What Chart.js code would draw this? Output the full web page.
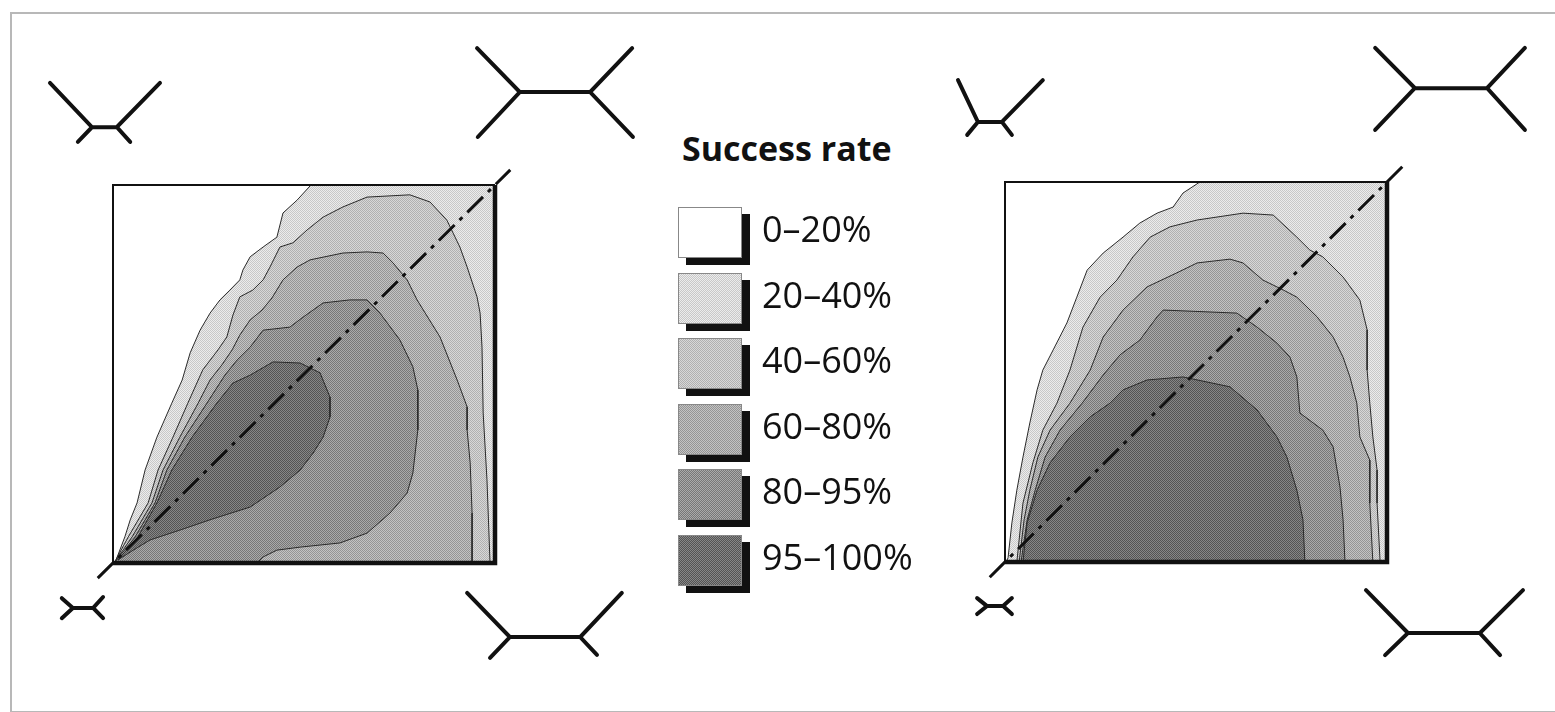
<!DOCTYPE html>
<html><head><meta charset="utf-8">
<script src="https://cdn.jsdelivr.net/npm/chart.js@4.4.1/dist/chart.umd.min.js"></script>
<style>
html,body{margin:0;padding:0;background:#fff;}
body{width:1555px;height:712px;position:relative;overflow:hidden;}
#frame{position:absolute;left:10px;top:12px;width:1600px;height:697px;border-left:2px solid #b8b8b8;border-top:2px solid #b8b8b8;border-bottom:2px solid #b8b8b8;}
canvas{position:absolute;}
.title{position:absolute;left:682px;top:128px;font:700 34px 'Open Sans',sans-serif;line-height:40px;color:#111;white-space:nowrap;}
.sw{position:absolute;width:64px;height:51px;box-sizing:border-box;border:1px solid #888;}
.sh{position:absolute;width:64px;height:51px;background:#111;}
.lab{position:absolute;left:762px;font:500 36px 'Open Sans',sans-serif;line-height:51px;color:#111;white-space:nowrap;}
</style></head><body>
<div id="frame"></div>
<canvas id="cl" width="660" height="680" style="left:20px;top:20px"></canvas>
<canvas id="cr" width="615" height="680" style="left:930px;top:20px"></canvas>
<div id="legend"></div>
<script>
// ---------- data (unit square = parameter space of each panel) ----------
const legendTitle = 'Success rate';
const levelLabels = ['0–20%','20–40%','40–60%','60–80%','80–95%','95–100%'];

const leftLevel20 = [[0.518,1.0],[0.482,0.960],[0.445,0.926],[0.429,0.862],[0.393,0.836],[0.359,0.810],[0.340,0.775],[0.332,0.749],[0.306,0.722],[0.280,0.696],[0.254,0.661],[0.228,0.616],[0.202,0.556],[0.181,0.484],[0.154,0.423],[0.131,0.370],[0.115,0.333],[0.084,0.246],[0.063,0.159],[0.045,0.114],[0.031,0.069],[0.005,0],[1,0],[1,1]];
const leftLevel40 = [[0.003,0],[0.040,0.069],[0.092,0.159],[0.118,0.246],[0.157,0.333],[0.196,0.423],[0.235,0.511],[0.275,0.564],[0.298,0.598],[0.314,0.656],[0.332,0.704],[0.366,0.722],[0.393,0.749],[0.411,0.783],[0.437,0.836],[0.471,0.847],[0.508,0.881],[0.550,0.915],[0.602,0.942],[0.665,0.968],[0.777,0.974],[0.830,0.955],[0.874,0.907],[0.908,0.836],[0.927,0.783],[0.953,0.704],[0.961,0.661],[0.966,0.571],[0.969,0.397],[0.979,0.220],[0.987,0]];
const leftLevel60 = [[0.003,0],[0.050,0.069],[0.102,0.159],[0.131,0.246],[0.175,0.333],[0.223,0.423],[0.254,0.484],[0.285,0.524],[0.312,0.564],[0.332,0.603],[0.359,0.643],[0.390,0.669],[0.416,0.701],[0.445,0.749],[0.482,0.783],[0.516,0.802],[0.602,0.820],[0.665,0.823],[0.707,0.820],[0.733,0.794],[0.770,0.749],[0.796,0.696],[0.856,0.598],[0.901,0.484],[0.927,0.413],[0.927,0.352],[0.935,0.265],[0.940,0.132],[0.940,0]];
const leftLevel80 = [[0.003,0],[0.058,0.069],[0.110,0.159],[0.141,0.246],[0.188,0.333],[0.246,0.423],[0.293,0.497],[0.325,0.537],[0.359,0.571],[0.393,0.616],[0.463,0.624],[0.497,0.650],[0.550,0.688],[0.620,0.696],[0.665,0.696],[0.699,0.661],[0.751,0.590],[0.785,0.519],[0.798,0.458],[0.798,0.352],[0.785,0.238],[0.770,0.185],[0.725,0.132],[0.665,0.079],[0.594,0.053],[0.490,0.042],[0.429,0.034],[0.393,0.016],[0.377,0]];
const leftLevel95 = [[0.013,0.008],[0.065,0.069],[0.115,0.159],[0.154,0.246],[0.207,0.333],[0.272,0.423],[0.314,0.476],[0.359,0.497],[0.419,0.532],[0.490,0.529],[0.542,0.503],[0.568,0.439],[0.568,0.386],[0.550,0.333],[0.524,0.291],[0.490,0.246],[0.437,0.201],[0.359,0.148],[0.259,0.116],[0.175,0.087],[0.097,0.061],[0.045,0.029]];

const rightLevel20 = [[0.510,1.0],[0.466,0.971],[0.440,0.934],[0.398,0.918],[0.353,0.892],[0.309,0.855],[0.257,0.813],[0.215,0.768],[0.188,0.697],[0.162,0.629],[0.126,0.558],[0.099,0.505],[0.084,0.453],[0.065,0.366],[0.047,0.276],[0.031,0.189],[0.018,0.103],[0.008,0.011],[0.003,0],[1,0],[1,1]];
const rightLevel40 = [[0.031,0],[0.047,0.155],[0.073,0.261],[0.099,0.347],[0.136,0.418],[0.170,0.505],[0.204,0.618],[0.249,0.697],[0.293,0.742],[0.335,0.803],[0.380,0.855],[0.432,0.882],[0.503,0.900],[0.623,0.918],[0.702,0.913],[0.764,0.855],[0.798,0.821],[0.832,0.803],[0.885,0.750],[0.929,0.689],[0.948,0.611],[0.948,0.505],[0.955,0.418],[0.963,0.329],[0.974,0.242],[0.974,0.155],[0.982,0]];
const rightLevel60 = [[0.037,0],[0.050,0.111],[0.065,0.189],[0.086,0.276],[0.118,0.347],[0.170,0.418],[0.223,0.505],[0.257,0.592],[0.309,0.663],[0.372,0.724],[0.450,0.761],[0.503,0.787],[0.589,0.797],[0.623,0.787],[0.675,0.742],[0.728,0.716],[0.764,0.697],[0.817,0.645],[0.859,0.592],[0.885,0.539],[0.903,0.487],[0.921,0.418],[0.929,0.329],[0.955,0.268],[0.955,0.155],[0.963,0]];
const rightLevel80 = [[0.042,0],[0.058,0.111],[0.079,0.189],[0.105,0.276],[0.144,0.347],[0.202,0.418],[0.257,0.492],[0.301,0.545],[0.353,0.584],[0.398,0.645],[0.414,0.663],[0.607,0.655],[0.660,0.618],[0.712,0.576],[0.746,0.539],[0.764,0.487],[0.772,0.392],[0.832,0.347],[0.859,0.303],[0.877,0.197],[0.885,0.111],[0.890,0]];
const rightLevel95 = [[0.047,0],[0.058,0.103],[0.084,0.189],[0.118,0.261],[0.170,0.329],[0.223,0.382],[0.275,0.418],[0.309,0.453],[0.372,0.479],[0.466,0.487],[0.589,0.461],[0.660,0.400],[0.712,0.329],[0.738,0.276],[0.764,0.189],[0.780,0.111],[0.785,0]];

const diagonal = [[-0.04,-0.04],[1.04,1.04]];
const frameThin = [[0,0],[0,1],[1,1]];
const frameThick = [[0,0],[1,0],[1,1]];

const leftTreeTopLeft = [[-0.165,1.270],[-0.055,1.153],[-0.092,1.114],null,[-0.055,1.153],[0.010,1.153],null,[0.123,1.270],[0.010,1.153],[0.045,1.114]];
const leftTreeTopRight = [[0.953,1.362],[1.065,1.246],[0.955,1.127],null,[1.065,1.246],[1.249,1.246],null,[1.359,1.362],[1.249,1.246],[1.361,1.127]];
const leftTreeBottomLeft = [[-0.134,-0.093],[-0.105,-0.119],[-0.134,-0.146],null,[-0.105,-0.119],[-0.052,-0.119],null,[-0.026,-0.090],[-0.052,-0.119],[-0.026,-0.146]];
const leftTreeBottomRight = [[0.927,-0.079],[1.039,-0.196],[0.987,-0.251],null,[1.039,-0.196],[1.223,-0.196],null,[1.332,-0.079],[1.223,-0.196],[1.267,-0.243]];

const rightTreeTopLeft = [[-0.123,1.268],[-0.071,1.158],[-0.099,1.124],null,[-0.071,1.158],[-0.008,1.158],null,[0.099,1.268],[-0.008,1.158],[0.018,1.124]];
const rightTreeTopRight = [[0.969,1.353],[1.073,1.247],[0.969,1.137],null,[1.073,1.247],[1.262,1.247],null,[1.361,1.353],[1.262,1.247],[1.361,1.137]];
const rightTreeBottomLeft = [[-0.073,-0.095],[-0.047,-0.116],[-0.073,-0.137],null,[-0.047,-0.116],[-0.005,-0.116],null,[0.018,-0.095],[-0.005,-0.116],[0.018,-0.137]];
const rightTreeBottomRight = [[0.945,-0.074],[1.055,-0.187],[0.995,-0.245],null,[1.055,-0.187],[1.243,-0.187],null,[1.356,-0.074],[1.243,-0.187],[1.296,-0.245]];

// ---------- styles ----------
function tile(bg, dot){
  const c=document.createElement('canvas'); c.width=2; c.height=2;
  const g=c.getContext('2d'); g.fillStyle=bg; g.fillRect(0,0,2,2);
  g.fillStyle=dot; g.fillRect(0,0,1,1); g.fillRect(1,1,1,1); return c;
}
const tiles=[tile('#ffffff','#ffffff'),tile('#ececec','#c8c8c8'),tile('#d7d7d7','#b0b0b0'),tile('#c3c3c3','#959595'),tile('#aaaaaa','#777777'),tile('#878787','#545454')];

function pts(a){ let lx=0; return a.map(p=> p ? (lx=p[0], {x:p[0],y:p[1]}) : {x:lx,y:null}); }
function poly(a){ const p=pts(a); p.push({x:p[0].x,y:p[0].y}); return p; }

function panel(id, box, cv, levels, trees){
  const ctx=document.getElementById(id).getContext('2d');
  const ds=[];
  levels.forEach((lv,i)=>ds.push({data:poly(lv),fill:'shape',backgroundColor:ctx.createPattern(tiles[i+1],'repeat'),borderColor:'#2a2a2a',borderWidth:1,order:90-i*10,pointRadius:0,tension:0}));
  ds.push({data:pts(diagonal),borderColor:'#111',borderWidth:3,borderDash:[22,7,4,7],order:10,fill:false,pointRadius:0});
  ds.push({data:pts(frameThin),borderColor:'#111',borderWidth:2,order:5,fill:false,pointRadius:0});
  ds.push({data:pts(frameThick),borderColor:'#111',borderWidth:4.5,order:4,fill:false,pointRadius:0});
  trees.forEach(t=>ds.push({data:pts(t),borderColor:'#111',borderWidth:4,borderCapStyle:'round',order:3,fill:false,spanGaps:false,pointRadius:0}));
  new Chart(ctx,{type:'line',data:{datasets:ds},options:{
    responsive:false,animation:false,devicePixelRatio:1,layout:{padding:0},
    plugins:{legend:{display:false},tooltip:{enabled:false}},
    elements:{point:{radius:0}},
    scales:{
      x:{type:'linear',display:false,min:(cv.left-box.left)/box.w,max:(cv.left+cv.w-box.left)/box.w},
      y:{type:'linear',display:false,min:(box.bottom-(cv.top+cv.h))/box.h,max:(box.bottom-cv.top)/box.h}
    }}});
}
panel('cl',{left:113,bottom:563,w:382,h:378},{left:20,top:20,w:660,h:680},
  [leftLevel20,leftLevel40,leftLevel60,leftLevel80,leftLevel95],
  [leftTreeTopLeft,leftTreeTopRight,leftTreeBottomLeft,leftTreeBottomRight]);
panel('cr',{left:1005,bottom:562,w:382,h:380},{left:930,top:20,w:615,h:680},
  [rightLevel20,rightLevel40,rightLevel60,rightLevel80,rightLevel95],
  [rightTreeTopLeft,rightTreeTopRight,rightTreeBottomLeft,rightTreeBottomRight]);

// ---------- legend ----------
const lg=document.getElementById('legend');
const t=document.createElement('div'); t.className='title'; t.textContent=legendTitle; lg.appendChild(t);
levelLabels.forEach((lab,i)=>{
  const top=207+i*65.6;
  const sh=document.createElement('div'); sh.className='sh'; sh.style.left='686px'; sh.style.top=(top+7)+'px'; lg.appendChild(sh);
  const sw=document.createElement('div'); sw.className='sw'; sw.style.left='678px'; sw.style.top=top+'px';
  sw.style.backgroundImage='url('+tiles[i].toDataURL()+')'; lg.appendChild(sw);
  const l=document.createElement('div'); l.className='lab'; l.style.top=(top-4)+'px'; l.textContent=lab; lg.appendChild(l);
});
</script>
</body></html>
